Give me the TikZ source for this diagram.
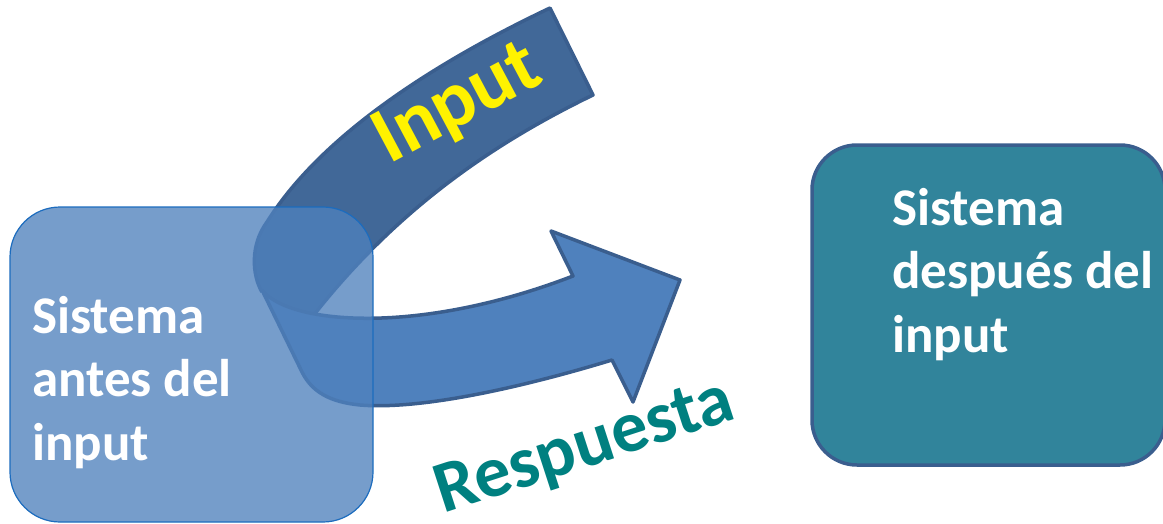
\documentclass[tikz,border=0pt]{standalone}
\usepackage{fontspec}
\setmainfont{Carlito}
\definecolor{bandfill}{RGB}{65,104,152}
\definecolor{frontfill}{RGB}{79,129,189}
\definecolor{ribbonedge}{RGB}{58,94,142}
\definecolor{antesfill}{RGB}{79,129,189}
\definecolor{antesedge}{RGB}{28,108,190}
\definecolor{despuesfill}{RGB}{49,132,155}
\definecolor{despuesedge}{RGB}{58,94,142}
\definecolor{respcolor}{RGB}{0,128,128}
\begin{document}
\begin{tikzpicture}[x=1pt,y=-1pt,
  ribbonline/.style={draw=ribbonedge,line width=3.5pt,line join=round},
  boxlabel/.style={font=\fontsize{53}{63.5}\selectfont\bfseries,text=white,
    align=left,inner sep=0pt,anchor=north west},
  antesbox/.style={rectangle,rounded corners=50pt,minimum width=363pt,
    minimum height=315pt,fill=antesfill,fill opacity=0.78,
    draw=antesedge,line width=1.2pt},
  despuesbox/.style={rectangle,rounded corners=45pt,minimum width=353pt,
    minimum height=320pt,fill=despuesfill,draw=despuesedge,line width=3.5pt},
  ribbonlabel/.style={font=\bfseries,inner sep=0pt,anchor=base west}]
\useasboundingbox (0,0) rectangle (1163,523);

% back of the ribbon: the band that comes down from the top right
\fill[bandfill] (262,292) .. controls (252,275) and (250,245) .. (267,222)
  .. controls (315,145) and (415,72) .. (550,8) -- (593,95)
  .. controls (500,140) and (400,205) .. (313,316) -- (285,330) -- cycle;
\draw[ribbonline] (262,292) .. controls (252,275) and (250,245) .. (267,222)
  .. controls (315,145) and (415,72) .. (550,8) -- (593,95)
  .. controls (500,140) and (400,205) .. (313,316);

% front of the ribbon: the arrow that leaves towards the right
\draw[ribbonline,fill=frontfill] (262,290)
  .. controls (290,325) and (420,335) .. (573,276)
  -- (551,231) -- (680,280) -- (633,402) -- (612,360)
  .. controls (520,388) and (420,410) .. (360,405)
  .. controls (330,402) and (312,392) .. (302,372) -- cycle;

\node[ribbonlabel,rotate=28,text={yellow},font=\fontsize{80}{96}\selectfont\bfseries]
  (input) at (389,165) {Input};

% the two states of the system
\node[antesbox] (antes) at (191.5,364.5) {};
\node[boxlabel] (antestxt) at (32,296) {Sistema\\antes del\\input};

\node[despuesbox] (despues) at (988.5,305) {};
\node[boxlabel] (despuestxt) at (892,188) {Sistema\\después del\\input};

\node[ribbonlabel,rotate=18,text=respcolor,font=\fontsize{73}{88}\selectfont\bfseries]
  (respuesta) at (443,514) {Respuesta};
\end{tikzpicture}
\end{document}
